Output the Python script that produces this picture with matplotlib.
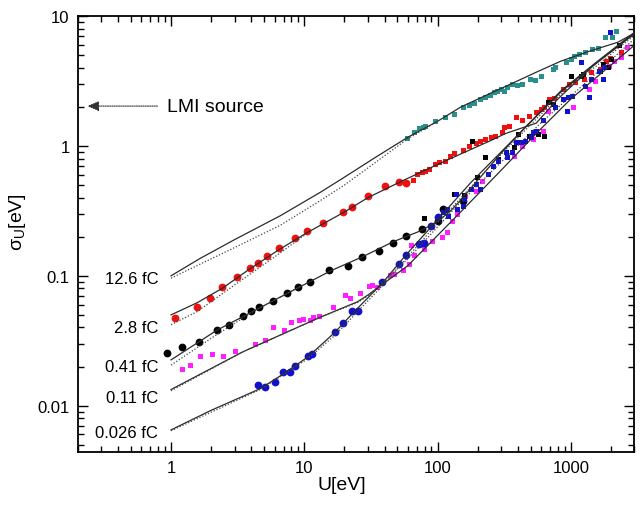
import matplotlib
matplotlib.use("Agg")
import matplotlib.pyplot as plt
from matplotlib.ticker import NullFormatter

plt.rcParams['font.family'] = ['Liberation Sans', 'DejaVu Sans']
plt.rcParams['mathtext.fontset'] = 'custom'
plt.rcParams['mathtext.rm'] = 'Liberation Sans'

# ---- model curves (U [eV], sigma [eV]) ----
c126_u = [1, 1.65, 3, 6.6, 13.2, 20, 35, 60, 100, 150, 250, 354, 550, 841, 1400, 2255, 3000]
c126_s = [0.1, 0.136, 0.19, 0.29, 0.44, 0.575, 0.83, 1.17, 1.55, 2.0, 2.55, 3.0, 3.7, 4.5, 5.4, 6.3, 7.4]
c126d_u = [1, 3, 6.6, 13.2, 20, 35, 60, 100]
c126d_s = [0.096, 0.165, 0.245, 0.38, 0.5, 0.76, 1.14, 1.55]

c28_u = [1, 1.57, 2.42, 3.9, 6.4, 10.5, 20, 30, 54.6, 100, 150, 250, 325, 550, 800, 1490, 3000]
c28_s = [0.05, 0.062, 0.08, 0.113, 0.158, 0.215, 0.31, 0.40, 0.54, 0.72, 0.87, 1.1, 1.25, 1.5, 2.3, 4.2, 7.3]
c28d_u = [1, 1.57, 3, 6, 10]
c28d_s = [0.042, 0.053, 0.085, 0.14, 0.205]

c041_u = [1, 2.2, 5.8, 11, 15.7, 27.3, 46.5, 74.6, 100, 125, 150, 177, 300, 475, 841, 1490, 3000]
c041_s = [0.0225, 0.038, 0.064, 0.09, 0.109, 0.14, 0.183, 0.222, 0.262, 0.315, 0.385, 0.47, 0.88,
          1.46, 2.65, 4.27, 7.5]
c041d_u = [1, 2, 4, 6, 10]
c041d_s = [0.0205, 0.033, 0.052, 0.065, 0.086]

c011_u = [1, 3.47, 13.2, 25, 30, 60, 149, 300, 594, 1000, 2960]
c011_s = [0.0133, 0.026, 0.048, 0.063, 0.071, 0.12, 0.31, 0.65, 1.35, 2.3, 5.9]
c011d_u = [1, 3.47, 13.2, 25, 30, 60, 149, 594, 2960]
c011d_s = [0.013, 0.026, 0.048, 0.062, 0.07, 0.135, 0.37, 1.5, 6.6]

c0026_u = [1, 2, 4.67, 7, 10.5, 13.6, 17.1, 22.9, 38.6, 57, 100, 177, 300, 475, 841, 1490, 3000]
c0026_s = [0.0065, 0.0092, 0.0135, 0.0176, 0.0235, 0.0298, 0.037, 0.051, 0.088, 0.142, 0.27, 0.52,
           0.9, 1.45, 2.6, 4.2, 7.4]
c0026d_u = [1, 4.67, 10.5, 17.1, 38.6, 100, 300, 841, 3000]
c0026d_s = [0.0064, 0.0133, 0.0228, 0.035, 0.084, 0.255, 0.86, 2.5, 7.1]

# ---- measured points ----
teal_u = [59.5, 67, 73, 77.5, 81, 95, 113, 134, 154, 173, 189, 207, 229, 246, 267, 281, 297, 315,
          335, 365, 396, 433, 493, 535, 594, 730, 765, 918, 998, 1060, 1160, 1280, 1450, 1600,
          1820, 2030, 2200]
teal_s = [1.15, 1.28, 1.38, 1.40, 1.43, 1.56, 1.67, 1.76, 2.0, 2.07, 2.14, 2.30, 2.38, 2.47, 2.60,
          2.65, 2.74, 2.65, 2.84, 3.0, 2.94, 3.0, 3.28, 3.22, 3.45, 3.91, 4.05, 4.42, 4.66, 4.93,
          5.1, 5.3, 5.57, 5.67, 6.9, 6.9, 7.7]

red_c_u = [1.07, 1.57, 1.96, 2.42, 3.13, 3.92, 4.5, 5.26, 6.5, 8.55, 10.5, 13.9, 19.6, 22.9, 30.3,
           40.6, 51, 57.6]
red_c_s = [0.0475, 0.058, 0.068, 0.082, 0.098, 0.115, 0.126, 0.143, 0.164, 0.196, 0.222, 0.255,
           0.311, 0.340, 0.413, 0.49, 0.53, 0.52]
red_q_u = [65, 70.5, 77, 81, 87, 95, 103, 113, 123, 134, 154, 173, 193, 210, 229, 250, 270, 306,
           318, 345, 385, 433, 490, 547, 594, 635, 690, 750, 870, 975, 1080, 1260, 1410, 1650,
           1850, 1970, 2370]
red_q_s = [0.55, 0.61, 0.63, 0.64, 0.665, 0.73, 0.75, 0.77, 0.84, 0.88, 0.93, 1.0, 1.05, 1.09,
           1.13, 1.17, 1.19, 1.28, 1.40, 1.43, 1.67, 1.60, 1.70, 1.83, 1.93, 2.0, 2.30, 2.34,
           2.74, 3.0, 3.1, 3.28, 3.7, 3.9, 4.5, 4.75, 5.3]

black_c_u = [0.93, 1.21, 1.62, 2.22, 2.73, 3.47, 3.99, 4.58, 5.84, 7.44, 9.0, 11.0, 15.4, 21.3,
             27.3, 36.1, 46, 57.6, 76, 100, 110, 154]
black_c_s = [0.0256, 0.0284, 0.031, 0.0385, 0.042, 0.049, 0.054, 0.057, 0.064, 0.074, 0.082,
             0.09, 0.111, 0.12, 0.14, 0.156, 0.179, 0.203, 0.23, 0.265, 0.328, 0.378]
black_q_u = [78.6, 115, 134, 157, 180, 199, 229, 286, 372, 405, 485, 563, 625, 680, 740, 998,
             1187, 1230, 1650, 1740, 1900, 2000, 2290]
black_q_s = [0.28, 0.32, 0.43, 0.42, 1.09, 0.58, 0.82, 0.795, 0.98, 1.24, 1.19, 1.24, 1.19, 2.2,
             2.1, 3.45, 3.45, 3.6, 3.8, 4.27, 4.05, 4.66, 6.0]

mag_u = [1.21, 1.39, 1.65, 2.03, 2.46, 3.03, 4.28, 5.09, 5.84, 7.07, 7.97, 9.15, 9.84, 11.0, 11.7,
         12.9, 16.5, 20.3, 22.2, 26.4, 30.7, 32.3, 35.3, 43.7, 47.5, 54.6, 61.4, 62.7, 67, 78.6,
         91.6, 108, 118, 129, 141, 162, 193, 216, 372, 433, 520, 563, 615, 680, 1040, 1360,
         1530, 1930, 2100, 2370, 2660]
mag_s = [0.0193, 0.0204, 0.0239, 0.025, 0.0242, 0.0265, 0.030, 0.032, 0.0405, 0.0385, 0.0443,
         0.0453, 0.0467, 0.046, 0.0485, 0.049, 0.058, 0.071, 0.068, 0.074, 0.084, 0.085, 0.082,
         0.102, 0.104, 0.111, 0.124, 0.173, 0.145, 0.161, 0.186, 0.2, 0.218, 0.265, 0.3, 0.413,
         0.45, 0.54, 0.84, 1.0, 1.13, 1.24, 1.3, 1.86, 2.0, 2.74, 3.16, 4.13, 4.5, 4.84, 5.8]

blue_c_u = [4.5, 5.09, 6.06, 6.95, 7.85, 8.55, 10.7, 11.5, 17.1, 19.6, 22.9, 25.4, 38.6, 51.8,
            57.6, 72, 78.6, 88.6, 101]
blue_c_s = [0.0145, 0.0138, 0.0153, 0.0183, 0.018, 0.0203, 0.0239, 0.0248, 0.0372, 0.0434,
            0.054, 0.054, 0.09, 0.124, 0.145, 0.177, 0.179, 0.24, 0.284]
blue_q_u = [110, 118, 120, 137, 141, 154, 157, 177, 193, 210, 240, 262, 286, 325, 335, 365, 385,
            420, 455, 500, 520, 547, 615, 765, 870, 945, 960, 1020, 1190, 1280, 1360, 1410,
            1620, 1740, 1770, 1970]
blue_q_s = [0.31, 0.328, 0.29, 0.428, 0.328, 0.345, 0.39, 0.467, 0.51, 0.467, 0.61, 0.70, 0.77,
            0.90, 0.82, 0.90, 1.07, 1.07, 1.09, 1.17, 1.28, 1.31, 1.6, 2.0, 2.3, 1.86, 2.38, 2.43,
            4.4, 2.9, 2.38, 3.28, 3.8, 3.28, 4.05, 7.5]

charge_labels = ['12.6 fC', '2.8 fC', '0.41 fC', '0.11 fC', '0.026 fC']
label_sigma = [0.0948, 0.0398, 0.020, 0.01153, 0.0062]

TEAL = '#2a8f8c'
RED = '#f01010'
MAG = '#ff20ff'
BLUE = '#1010d0'

fig = plt.figure(figsize=(6.44, 5.06), dpi=100)
ax = fig.add_axes([0.121, 0.105, 0.864, 0.861])
ax.set_xscale('log')
ax.set_yscale('log')

solid = dict(color='#2b2b2b', lw=0.9, zorder=3)
dotted = dict(color='#444444', lw=0.9, ls=(0, (1, 1.5)), zorder=3)
for u, s in [(c126_u, c126_s), (c28_u, c28_s), (c041_u, c041_s), (c011_u, c011_s), (c0026_u, c0026_s)]:
    ax.plot(u, s, **solid)
for u, s in [(c126d_u, c126d_s), (c28d_u, c28d_s), (c041d_u, c041d_s), (c011d_u, c011d_s), (c0026d_u, c0026d_s)]:
    ax.plot(u, s, **dotted)

sq = dict(marker='s', ls='none', ms=3.6, mew=0, zorder=2)
ci = dict(marker='o', ls='none', ms=5.6, mew=0, zorder=2)
ax.plot(teal_u, teal_s, color=TEAL, **sq)
ax.plot(red_c_u, red_c_s, color=RED, **ci)
ax.plot(red_q_u, red_q_s, color=RED, **sq)
ax.plot(mag_u, mag_s, color=MAG, **sq)
ax.plot(black_c_u, black_c_s, color='black', **ci)
ax.plot(black_q_u, black_q_s, color='black', **sq)
ax.plot(blue_c_u, blue_c_s, color=BLUE, **ci)
ax.plot(blue_q_u, blue_q_s, color=BLUE, **sq)

for lab, s in zip(charge_labels, label_sigma):
    ax.text(0.8, s, lab, ha='right', va='center', fontsize=12)

ax.annotate('', xy=(0.235, 2.03), xytext=(0.79, 2.03),
            arrowprops=dict(arrowstyle='-|>,head_length=0.7,head_width=0.3', color='#333333',
                            lw=0.8, ls=(0, (1, 1)), shrinkA=0, shrinkB=0))
ax.text(0.93, 2.03, 'LMI source', ha='left', va='center', fontsize=14)

ax.set_xlim(0.2, 3000)
ax.set_ylim(0.0044, 10)
ax.set_xticks([1, 10, 100, 1000])
ax.set_xticklabels(['1', '10', '100', '1000'])
ax.set_yticks([0.01, 0.1, 1, 10])
ax.set_yticklabels(['0.01', '0.1', '1', '10'])
ax.xaxis.set_minor_formatter(NullFormatter())
ax.yaxis.set_minor_formatter(NullFormatter())
ax.tick_params(which='both', direction='in', top=True, right=True, width=1.0, labelsize=12)
ax.tick_params(which='major', length=7, pad=6)
ax.tick_params(which='minor', length=4)
for sp in ax.spines.values():
    sp.set_linewidth(1.3)

ax.set_xlabel('U[eV]', fontsize=14)
ax.xaxis.set_label_coords(0.475, -0.055)
ax.set_ylabel('σ$_\\mathregular{U}$[eV]', fontsize=14)
ax.yaxis.set_label_coords(-0.09, 0.53)

fig.savefig('out.png', dpi=100)
